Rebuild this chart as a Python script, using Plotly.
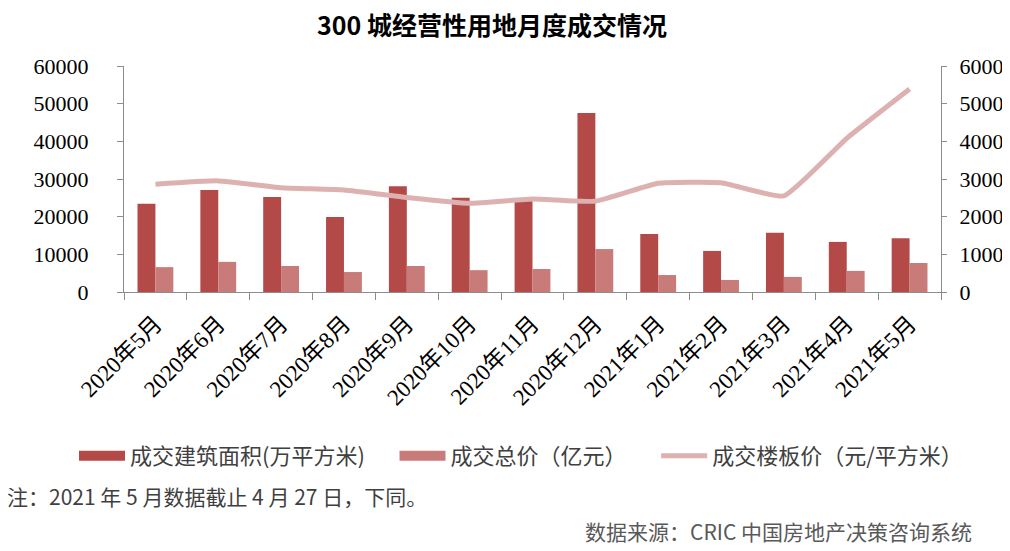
import plotly.graph_objects as go

months = ["2020年5月", "2020年6月", "2020年7月", "2020年8月", "2020年9月", "2020年10月",
          "2020年11月", "2020年12月", "2021年1月", "2021年2月", "2021年3月", "2021年4月", "2021年5月"]
area = [23400, 27100, 25200, 19900, 28100, 25000, 24700, 47500, 15400, 10900, 15700, 13300, 14300]
total_price = [6600, 8000, 6900, 5300, 6900, 5800, 6100, 11400, 4500, 3200, 4000, 5600, 7700]
floor_price = [2860, 2950, 2770, 2710, 2510, 2355, 2470, 2410, 2885, 2900, 2550, 4080, 5390]

name_area = "成交建筑面积(万平方米)"
name_total = "成交总价（亿元）"
name_floor = "成交楼板价（元/平方米）"

c_area = "#b34a48"
c_total = "#c97b7a"
c_line = "#dcb1b0"

sans = "Noto Sans CJK SC, Noto Sans, sans-serif"
serif = "Liberation Serif, Noto Sans CJK SC, serif"
pad = "\u00a0" * 5

# page body has an 8px offset; the figure is sized/positioned to compensate
W, H = 1002, 543
L, R, T, B = 116, 69, 58, 259
PW = W - L - R
PH = H - T - B

fig = go.Figure()
fig.add_trace(go.Bar(x=months, y=area, name=name_area, marker=dict(color=c_area, line=dict(width=0)),
                     showlegend=False, yaxis="y"))
fig.add_trace(go.Bar(x=months, y=total_price, name=name_total, marker=dict(color=c_total, line=dict(width=0)),
                     showlegend=False, yaxis="y"))
fig.add_trace(go.Scatter(x=months, y=floor_price, name=name_floor, mode="lines",
                         line=dict(color=c_line, width=5, shape="spline", smoothing=0.4),
                         showlegend=False, yaxis="y2"))
# legend entries
fig.add_trace(go.Scatter(x=[None], y=[None], name=name_area + pad, mode="lines",
                         line=dict(color=c_area, width=12), showlegend=True))
fig.add_trace(go.Scatter(x=[None], y=[None], name=name_total + pad, mode="lines",
                         line=dict(color=c_total, width=12), showlegend=True))
fig.add_trace(go.Scatter(x=[None], y=[None], name=name_floor, mode="lines",
                         line=dict(color=c_line, width=5), showlegend=True))


def px_x(sx):
    return (sx - 8 - L) / PW


def px_y(sy):
    return (H - B - (sy - 8)) / PH


axis_col = "#8c8c8c"
fig.update_layout(
    width=W, height=H,
    margin=dict(l=L, r=R, t=T, b=B, autoexpand=False),
    paper_bgcolor="white", plot_bgcolor="white",
    barmode="group", bargap=0.43, bargroupgap=0,
    title=dict(text="<b>300 城经营性用地月度成交情况</b>", x=(492 - 8) / W, xanchor="center",
               y=1 - (26 - 8) / H, yanchor="middle", font=dict(family=sans, size=25, color="black"),
               automargin=False),
    xaxis=dict(type="category", showline=True, linecolor=axis_col, linewidth=1.3,
               ticks="outside", tickson="boundaries", ticklen=7, tickcolor=axis_col,
               tickangle=-45, tickfont=dict(family=serif, size=23, color="black"),
               ticklabelstandoff=8,
               showgrid=False, zeroline=False, automargin=False),
    yaxis=dict(range=[0, 60000], dtick=10000, tickformat="d", showline=True, linecolor=axis_col,
               linewidth=1.3, ticks="outside", ticklen=6, tickcolor=axis_col, showgrid=False,
               zeroline=False, automargin=False,
               tickfont=dict(family=serif, size=22, color="black"), ticklabelstandoff=24),
    yaxis2=dict(range=[0, 6000], dtick=1000, tickformat="d", overlaying="y", side="right",
                showline=True, linecolor=axis_col, linewidth=1.3, ticks="outside", ticklen=5,
                tickcolor=axis_col, showgrid=False, zeroline=False, automargin=False,
                tickfont=dict(family=serif, size=22, color="black"), ticklabelstandoff=8),
    legend=dict(orientation="h", xref="paper", yref="paper", x=px_x(74), y=px_y(456),
                xanchor="left", yanchor="middle", font=dict(family=sans, size=22, color="#404040"),
                itemwidth=46, traceorder="normal", bgcolor="rgba(0,0,0,0)"),
    annotations=[
        dict(text="注：2021 年 5 月数据截止 4 月 27 日，下同。", xref="paper", yref="paper",
             x=px_x(5), y=px_y(496), xanchor="left", yanchor="middle",
             showarrow=False, font=dict(family=sans, size=21, color="#3f3f3f")),
        dict(text="数据来源：CRIC 中国房地产决策咨询系统", xref="paper", yref="paper",
             x=px_x(974), y=px_y(531), xanchor="right", yanchor="middle",
             showarrow=False, font=dict(family=sans, size=21, color="#595959")),
    ],
)

fig.write_html("out.html")
